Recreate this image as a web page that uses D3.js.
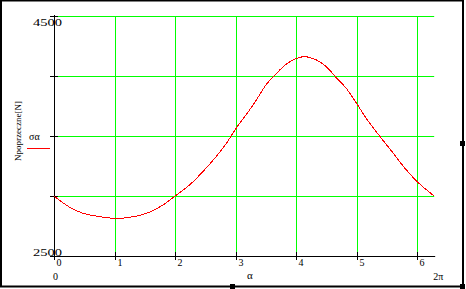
<!DOCTYPE html>
<html>
<head>
<meta charset="utf-8">
<script src="https://cdn.jsdelivr.net/npm/d3@7"></script>
<style>
  body { margin: 0; background: #fff; }
  svg { display: block; }
  text { font-family: "Liberation Serif", "Times New Roman", serif; fill: #000; }
</style>
</head>
<body>
<svg id="chart"></svg>
<script>
// values (alpha in rad, force in N)
const alpha = [0, 0.26, 0.48, 0.7, 0.99, 1.25, 1.53, 1.8, 2.0, 2.24, 2.46, 2.68, 2.85, 2.99,
  3.29, 3.51, 3.65, 3.84, 4.01, 4.14, 4.34, 4.5, 4.64, 4.83, 5.0, 5.16, 5.38, 5.6, 5.8, 6.02, 6.283];
const force = [3000, 2906, 2856, 2833, 2814, 2822, 2856, 2925, 3000, 3092, 3203, 3328, 3439, 3550,
  3758, 3930, 4008, 4100, 4147, 4161, 4133, 4078, 4000, 3897, 3772, 3647, 3500, 3361, 3231, 3111, 3000];

const xTicks = [0, 1, 2, 3, 4, 5, 6];
const yTicks = [2500, 3000, 3500, 4000, 4500];
const xLimits = ["0", "2\u03c0"];
const yLimits = ["4500", "2500"];
const xTitle = "\u03b1";
const yTitle = "Npoprzeczne[N]";
const legendLabel = "\u03c3\u03b1";

const width = 466;
const height = 289;

const xScale = d3.scaleLinear().domain([0, 2 * Math.PI]).range([54, 434.2]);
const yScale = d3.scaleLinear().domain([2500, 4500]).range([256, 16]);

// snap tick positions to whole pixels so 1px lines stay sharp
const snapX = (g) => g.selectAll(".tick").attr("transform", (d) => `translate(${Math.round(xScale(d)) + 0.5},0)`);
const snapY = (g) => g.selectAll(".tick").attr("transform", (d) => `translate(0,${Math.round(yScale(d)) + 0.5})`);

const svg = d3
  .select("#chart")
  .attr("width", width)
  .attr("height", height)
  .attr("viewBox", `0 0 ${width} ${height}`);

// frame
svg
  .append("rect")
  .attr("x", 1)
  .attr("y", 0.5)
  .attr("width", 462)
  .attr("height", 286)
  .style("fill", "#fff")
  .style("stroke", "#000")
  .style("stroke-width", 2);

// green grid
const xGrid = d3
  .axisBottom(xScale)
  .tickValues(xTicks.slice(1))
  .tickSize(-(yScale(2500) - yScale(4500)))
  .tickFormat("");
const yGrid = d3
  .axisLeft(yScale)
  .tickValues(yTicks.slice(1))
  .tickSize(-(xScale(2 * Math.PI) - xScale(0)))
  .tickFormat("");

svg
  .append("g")
  .attr("transform", `translate(0, ${yScale(2500)})`)
  .call(xGrid)
  .call(snapX)
  .call((g) => g.select(".domain").remove())
  .selectAll("line")
  .style("stroke", "#00ff00")
  .style("stroke-width", 1);

svg
  .append("g")
  .attr("transform", `translate(${xScale(0)}, 0)`)
  .call(yGrid)
  .call(snapY)
  .call((g) => g.select(".domain").remove())
  .selectAll("line")
  .style("stroke", "#00ff00")
  .style("stroke-width", 1);

// axes with ticks on both sides
const xAxis = d3.axisBottom(xScale).tickValues(xTicks).tickSizeOuter(0).tickFormat(d3.format("d"));
const yAxis = d3.axisLeft(yScale).tickValues(yTicks).tickSizeOuter(0).tickFormat("");

const gx = svg
  .append("g")
  .attr("transform", `translate(0, ${yScale(2500)})`)
  .call(xAxis)
  .call(snapX);
gx.selectAll(".tick line").attr("y1", -4).attr("y2", 4);
gx.select(".domain").attr("d", `M${xScale(0)},0.5H${xScale(2 * Math.PI) + 1}`);
gx.selectAll(".tick text")
  .attr("y", 3)
  .attr("dx", 2)
  .attr("text-anchor", "start")
  .style("font-size", "10px")
  .style("font-family", "Liberation Serif");

const gy = svg
  .append("g")
  .attr("transform", `translate(${xScale(0)}, 0)`)
  .call(yAxis)
  .call(snapY);
gy.selectAll(".tick line").attr("x1", -4).attr("x2", 4);
gy.select(".domain").attr("d", `M0.5,${yScale(4500) - 1}V${yScale(2500) + 1}`);

[gx, gy].forEach((g) => g.selectAll(".domain, .tick line").style("stroke", "#000"));

// y limits
svg
  .selectAll(".ylim")
  .data(yLimits)
  .enter()
  .append("text")
  .attr("class", "ylim")
  .attr("x", 33)
  .attr("y", (d, i) => (i === 0 ? yScale(4500) + 10 : yScale(2500) - 0.5))
  .attr("textLength", 29)
  .attr("lengthAdjust", "spacingAndGlyphs")
  .style("font-size", "10px")
  .text((d) => d);

// x limits + title
svg
  .append("text")
  .attr("x", xScale(0) - 1)
  .attr("y", 280)
  .style("font-size", "10px")
  .text(xLimits[0]);
svg
  .append("text")
  .attr("x", xScale(2 * Math.PI) - 1)
  .attr("y", 280)
  .style("font-size", "10px")
  .text(xLimits[1]);
svg
  .append("text")
  .attr("x", 247)
  .attr("y", 279)
  .style("font-size", "11px")
  .text(xTitle);

// y title
svg
  .append("text")
  .attr("transform", `translate(21, 131) rotate(-90)`)
  .attr("text-anchor", "middle")
  .style("font-size", "9px")
  .text(yTitle);

// legend
svg
  .append("text")
  .attr("x", 29)
  .attr("y", 140)
  .style("font-size", "10px")
  .text(legendLabel);
svg
  .append("line")
  .attr("x1", 27)
  .attr("x2", 50)
  .attr("y1", 148.5)
  .attr("y2", 148.5)
  .style("stroke", "#ff0000")
  .style("stroke-width", 1);

// curve
const line = d3
  .line()
  .x((d, i) => xScale(alpha[i]))
  .y((d) => yScale(d))
  .curve(d3.curveCatmullRom);

svg
  .append("path")
  .attr("d", line(force))
  .style("fill", "none")
  .style("stroke", "#ff0000")
  .style("stroke-width", 1)
  .style("shape-rendering", "crispEdges");

// selection handles
svg
  .selectAll(".handle")
  .data([[230, 284], [460, 141], [460, 284]])
  .enter()
  .append("rect")
  .attr("class", "handle")
  .attr("x", (d) => d[0])
  .attr("y", (d) => d[1])
  .attr("width", 5)
  .attr("height", 5)
  .style("fill", "#000");
</script>
</body>
</html>
